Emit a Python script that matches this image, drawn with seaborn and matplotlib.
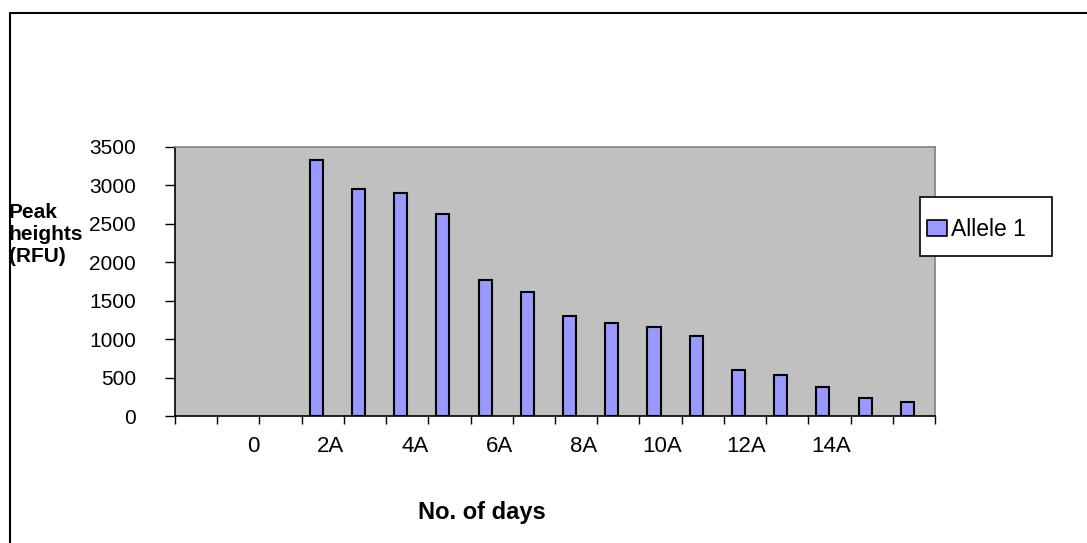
import numpy as np
import pandas as pd
import matplotlib
matplotlib.use("Agg")
import matplotlib.pyplot as plt
from matplotlib.lines import Line2D
from matplotlib.patches import Rectangle
from matplotlib.path import Path
import seaborn as sns

# ---- data ----
day_slots = ["", "0", "1A", "2A", "3A", "4A", "5A", "6A", "7A", "8A",
             "9A", "10A", "11A", "12A", "13A", "14A", "15A", "16A"]
allele1 = [np.nan, np.nan, np.nan, 3330, 2960, 2905, 2630, 1775, 1610,
           1295, 1215, 1155, 1040, 595, 535, 380, 240, 180]
allele2 = [np.nan] * 18
series_names = ["Allele 1", "Allele 2"]
tick_labels = ["0", "2A", "4A", "6A", "8A", "10A", "12A", "14A"]
y_ticks = [0, 500, 1000, 1500, 2000, 2500, 3000, 3500]

df = pd.DataFrame({
    "day": day_slots * 2,
    "value": allele1 + allele2,
    "series": [series_names[0]] * 18 + [series_names[1]] * 18,
})

sns.set_theme(style="white")
plt.rcParams["font.family"] = ["Liberation Sans", "DejaVu Sans"]
plt.rcParams["text.color"] = "black"
plt.rcParams["xtick.color"] = "black"
plt.rcParams["ytick.color"] = "black"

W, H = 1087, 543
fig = plt.figure(figsize=(W / 100, H / 100), dpi=100)
ax = fig.add_axes([175 / W, 1 - 416 / H, 760 / W, 269 / H])

bar_color = "#9999FF"
sns.barplot(data=df, x="day", y="value", hue="series", order=day_slots,
            hue_order=series_names, palette=[bar_color, "#993366"],
            saturation=1, width=0.62, edgecolor="black", linewidth=1.5,
            errorbar=None, legend=False, ax=ax)

ax.set_facecolor("#C0C0C0")
ax.set_xlim(-0.5, len(day_slots) - 0.5)
ax.set_ylim(0, 3500)
ax.set_yticks(y_ticks)
ax.set_yticklabels([str(v) for v in y_ticks], fontsize=15, color="black")
ax.tick_params(axis="y", direction="out", length=7, width=1, color="black",
               pad=21, left=True)

# category boundaries as ticks; labels right-aligned at every second boundary
boundaries = np.arange(-0.5, len(day_slots), 1.0)
ax.set_xticks(boundaries[2:17:2])
ax.set_xticklabels(tick_labels, fontsize=16, ha="right", color="black")
ax.set_xticks(boundaries, minor=True)
ax.tick_params(axis="x", which="both", direction="out", length=6, width=1,
               color="black", bottom=True)
ax.tick_params(axis="x", which="major", pad=8.5)

ax.set_xlabel("")
ax.set_ylabel("")
for s in ["left", "bottom"]:
    ax.spines[s].set_color("black")
    ax.spines[s].set_linewidth(1.2)
for s in ["top", "right"]:
    ax.spines[s].set_color("#808080")
    ax.spines[s].set_linewidth(1.2)

# legend box
fig.add_artist(Rectangle((920 / W, 1 - 256 / H), 132 / W, 59 / H,
                         transform=fig.transFigure, facecolor="white",
                         edgecolor="black", linewidth=1.2, zorder=4))
rect = Path([(-1, -0.79), (1, -0.79), (1, 0.79), (-1, 0.79), (-1, -0.79)],
            closed=True)
handle = Line2D([], [], linestyle="none", marker=rect, markersize=14,
                markerfacecolor=bar_color, markeredgecolor="black",
                markeredgewidth=1.2, label=series_names[0])
leg = fig.legend(handles=[handle], loc="center left",
                 bbox_to_anchor=(920 / W, 1 - 230 / H),
                 fontsize=16.5, frameon=False,
                 handlelength=0.86, handleheight=0.7,
                 handletextpad=0.2, borderpad=0.3, borderaxespad=0)
leg.set_zorder(5)
for t in leg.get_texts():
    t.set_color("black")

fig.text(9 / W, 1 - 235 / H, "Peak\nheights\n(RFU)", fontsize=15,
         fontweight="bold", ha="left", va="center", linespacing=1.2,
         color="black")
fig.text(481.5 / W, 1 - 512 / H, "No. of days", fontsize=17,
         fontweight="bold", ha="center", va="center", color="black")

fig.add_artist(Line2D([10 / W, 10 / W, 1.0], [0.0, 1 - 13 / H, 1 - 13 / H],
                      transform=fig.transFigure, color="black", linewidth=1.5))

fig.savefig("out.png", dpi=100)
